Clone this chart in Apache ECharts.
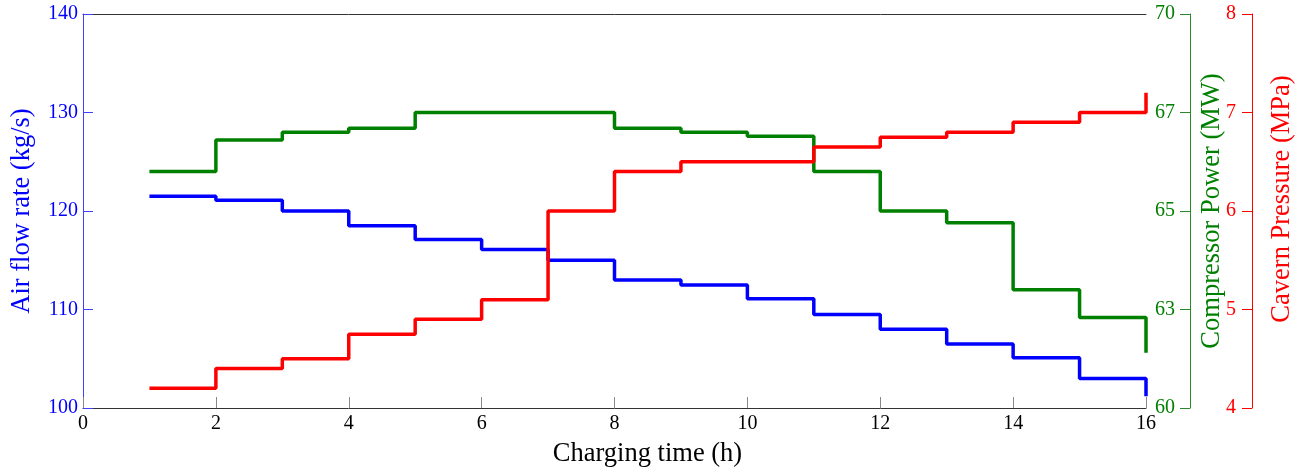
<!DOCTYPE html>
<html>
<head>
<meta charset="utf-8">
<script src="https://cdn.jsdelivr.net/npm/echarts@6/dist/echarts.min.js"></script>
<style>html,body{margin:0;padding:0;background:#fff}#c{width:1312px;height:473px}</style>
</head>
<body>
<div id="c"></div>
<script>
const hours = [1,2,3,4,5,6,7,8,9,10,11,12,13,14,15,16];
const airFlow = [121.5,121.1,120.0,118.5,117.1,116.1,115.0,113.0,112.5,111.1,109.5,108.0,106.5,105.1,103.0,101.2];
const compressorPower = [66.0,66.8,67.0,67.1,67.5,67.5,67.5,67.1,67.0,66.9,66.0,65.0,64.7,63.0,62.3,61.4];
const cavernPressure = [4.2,4.4,4.5,4.75,4.9,5.1,6.0,6.4,6.5,6.5,6.65,6.75,6.8,6.9,7.0,7.2];
const powerTickLabels = ['60','63','65','67','70'];

const font = 'Liberation Serif';
const chart = echarts.init(document.getElementById('c'));
const pair = (ys) => hours.map((h, i) => [h, ys[i]]);
chart.setOption({
  animation: false,
  grid: {left: 83, right: 166, top: 14, bottom: 65, containLabel: false},
  xAxis: [{
    type: 'value', min: 0, max: 16, interval: 2,
    name: 'Charging time (h)', nameLocation: 'middle', nameGap: 33,
    nameTextStyle: {fontFamily: font, fontSize: 26.5, color: '#000', padding: [0, 0, 0, 66]},
    axisLine: {onZero: false, lineStyle: {color: '#333', width: 1}},
    axisTick: {inside: true, length: 11, lineStyle: {color: '#888'}},
    axisLabel: {fontFamily: font, fontSize: 20, color: '#000', margin: 6},
    splitLine: {show: false}
  }, {
    type: 'value', min: 0, max: 16, position: 'top',
    axisLine: {show: true, onZero: false, lineStyle: {color: '#333', width: 1}},
    axisTick: {show: false}, axisLabel: {show: false}, splitLine: {show: false}
  }],
  yAxis: [{
    type: 'value', min: 100, max: 140, interval: 10, position: 'left',
    name: 'Air flow rate (kg/s)', nameLocation: 'middle', nameGap: 47,
    nameTextStyle: {fontFamily: font, fontSize: 26.5, color: '#0000ff'},
    axisLine: {show: true, onZero: false, lineStyle: {color: '#4040ff', width: 1}},
    axisTick: {show: true, inside: true, length: 10, lineStyle: {color: '#4040ff'}},
    axisLabel: {fontFamily: font, fontSize: 20, color: '#0000ff', margin: 5},
    splitLine: {show: false}
  }, {
    type: 'value', min: 60, max: 70, interval: 2.5, position: 'right', offset: 44,
    name: 'Compressor Power (MW)', nameLocation: 'middle', nameGap: 8,
    nameTextStyle: {fontFamily: font, fontSize: 26.5, color: '#008000'},
    axisLine: {show: true, onZero: false, lineStyle: {color: '#2a8a2a', width: 1}},
    axisTick: {show: true, inside: true, length: 10, lineStyle: {color: '#2a8a2a'}},
    axisLabel: {inside: true, fontFamily: font, fontSize: 20, color: '#008000', margin: 15,
      formatter: (v) => powerTickLabels[Math.round((v - 60) / 2.5)]},
    splitLine: {show: false}
  }, {
    type: 'value', min: 4, max: 8, interval: 1, position: 'right', offset: 106,
    name: 'Cavern Pressure (MPa)', nameLocation: 'middle', nameGap: 17,
    nameTextStyle: {fontFamily: font, fontSize: 26.5, color: '#ff0000', padding: [0, 0, 0, 24]},
    axisLine: {show: true, onZero: false, lineStyle: {color: '#ff0000', width: 1}},
    axisTick: {show: true, inside: true, length: 10, lineStyle: {color: '#ff0000'}},
    axisLabel: {inside: true, fontFamily: font, fontSize: 20, color: '#ff0000', margin: 16},
    splitLine: {show: false}
  }],
  series: [{
    type: 'line', step: 'end', yAxisIndex: 0, data: pair(airFlow),
    showSymbol: false, lineStyle: {color: '#0000ff', width: 3.5}, itemStyle: {color: '#0000ff'}
  }, {
    type: 'line', step: 'end', yAxisIndex: 1, data: pair(compressorPower),
    showSymbol: false, lineStyle: {color: '#008000', width: 3.5}, itemStyle: {color: '#008000'}
  }, {
    type: 'line', step: 'end', yAxisIndex: 2, data: pair(cavernPressure),
    showSymbol: false, lineStyle: {color: '#ff0000', width: 3.5}, itemStyle: {color: '#ff0000'}
  }]
});
</script>
</body>
</html>
